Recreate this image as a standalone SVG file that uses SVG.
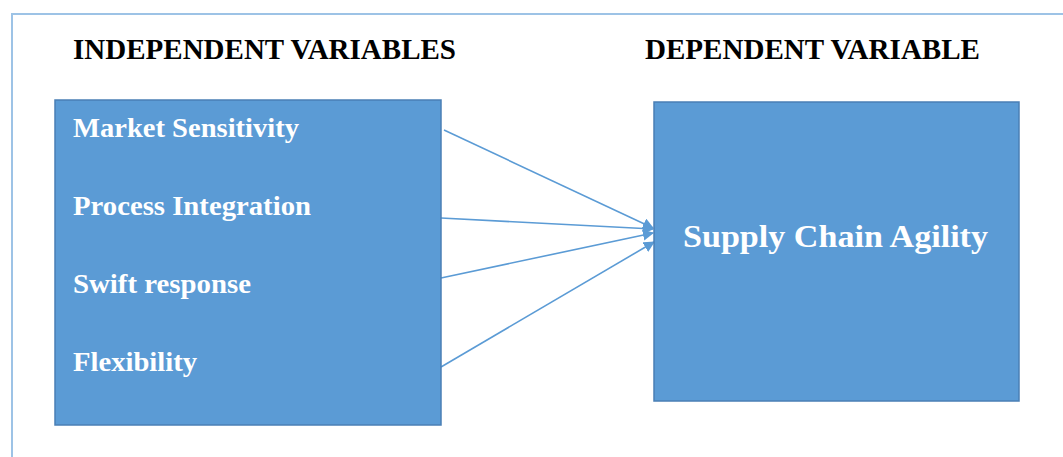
<svg xmlns="http://www.w3.org/2000/svg" width="1063" height="457" viewBox="0 0 1063 457">
<style>
.box{fill:#5b9bd5;stroke:#4a7fb5;stroke-width:1.5}
.hdr{font-family:"Liberation Serif","Times New Roman",serif;font-weight:bold;font-size:30px;fill:#000}
.lbl{font-family:"Liberation Serif","Times New Roman",serif;font-weight:bold;font-size:28px;fill:#fff}
.big{font-family:"Liberation Serif","Times New Roman",serif;font-weight:bold;font-size:32px;fill:#fff}
.con{stroke:#5b9bd5;stroke-width:1.6;fill:none;marker-end:url(#ah)}
.frame{stroke:#9dc3e6;stroke-width:2;fill:none}
</style>
<defs>
<marker id="ah" viewBox="0 0 10 10" refX="9" refY="5" markerWidth="7" markerHeight="7" markerUnits="strokeWidth" orient="auto">
<path d="M0,0 L10,5 L0,10 z" fill="#5b9bd5"/>
</marker>
</defs>
<rect width="1063" height="457" fill="#fff"/>
<path class="frame" d="M12,457 L12,14 L1063,14"/>
<text class="hdr" x="73" y="59" textLength="383" lengthAdjust="spacingAndGlyphs">INDEPENDENT VARIABLES</text>
<text class="hdr" x="645" y="59" textLength="335" lengthAdjust="spacingAndGlyphs">DEPENDENT VARIABLE</text>
<g id="connectors">
<line class="con" x1="444" y1="130" x2="653" y2="228"/>
<line class="con" x1="441" y1="218" x2="653" y2="229"/>
<line class="con" x1="441" y1="278" x2="653" y2="233"/>
<line class="con" x1="441" y1="367" x2="654" y2="242"/>
</g>
<g id="independent">
<rect class="box" x="55" y="100" width="386" height="325"/>
<text class="lbl" x="73" y="137" textLength="226" lengthAdjust="spacingAndGlyphs">Market Sensitivity</text>
<text class="lbl" x="73" y="215" textLength="238" lengthAdjust="spacingAndGlyphs">Process Integration</text>
<text class="lbl" x="73" y="293" textLength="178" lengthAdjust="spacingAndGlyphs">Swift response</text>
<text class="lbl" x="73" y="371" textLength="124" lengthAdjust="spacingAndGlyphs">Flexibility</text>
</g>
<g id="dependent">
<rect class="box" x="654" y="102" width="365" height="299"/>
<text class="big" x="683" y="247" textLength="305" lengthAdjust="spacingAndGlyphs">Supply Chain Agility</text>
</g>
</svg>
